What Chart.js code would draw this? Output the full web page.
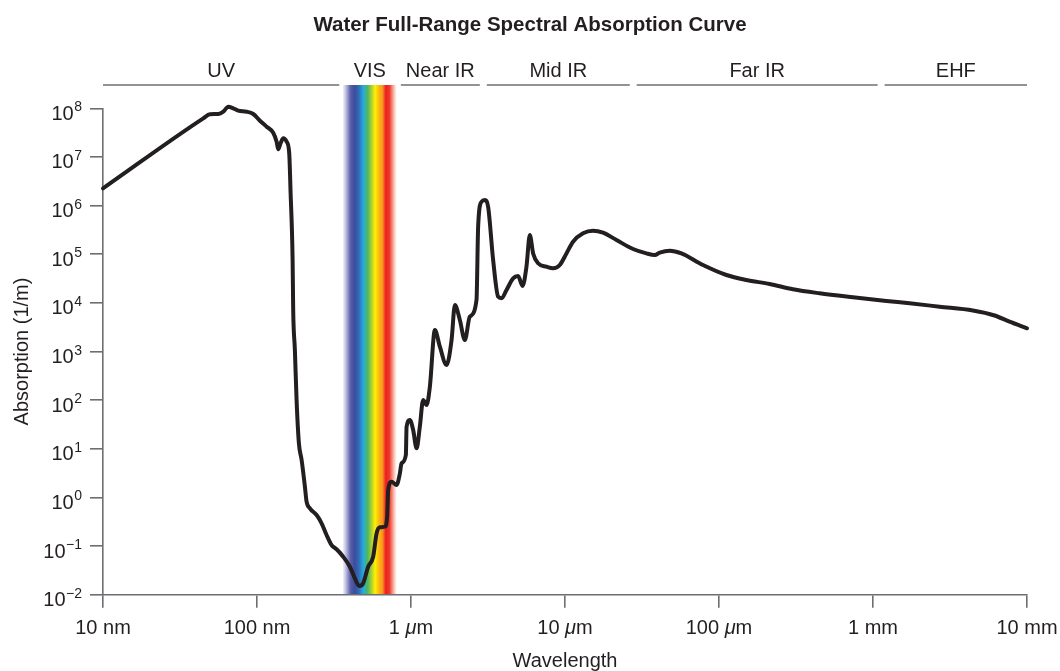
<!DOCTYPE html>
<html>
<head>
<meta charset="utf-8">
<script src="https://cdn.jsdelivr.net/npm/chart.js@4.4.0/dist/chart.umd.min.js"></script>
<style>
html,body{margin:0;padding:0;background:#fff}
#wrap{width:1060px;height:671px;position:relative}
</style>
</head>
<body>
<div id="wrap"><canvas id="c"></canvas></div>
<script>
// ---- data (wavelength in nm, absorption in 1/m) ----
const wavelengthNm = [
  10, 44.8, 49.5, 56.0, 60.4, 65.1, 70.1, 75.5, 85.6, 94.5,
  104.5, 115.5, 127.4, 134.1, 137.3, 142.3, 148.0, 155.7, 161.9, 165.3,
  170.3, 171.8, 176.2, 180.7, 187.1, 194.9, 204.7, 209.9, 220.5, 243.8,
  262.7, 283.0, 305, 328.7, 362.7, 401, 432, 461, 489, 527,
  568, 598, 628, 677, 700, 711, 748, 806, 847, 868,
  926, 936, 983, 1033, 1087, 1141, 1199, 1262, 1326, 1429,
  1540, 1701, 1834, 1927, 2076, 2237, 2410, 2663, 2729, 2871,
  3016, 3168, 3415, 3679, 3871, 4171, 4602, 4960, 5300, 5620,
  5910, 6210, 6690, 7580, 8370, 9250, 10220, 11280, 13100, 15210,
  17670, 21590, 27660, 33800, 38300, 41200, 47900, 57000, 78700, 111700,
  150600, 213300, 302200, 450000, 741000, 1221000, 1729000, 2707000, 4453000, 6160000,
  7700000, 10000000
];
const absorption = [
  2.26e6, 6.22e7, 7.54e7, 7.64e7, 8.51e7, 1.08e8, 1.0e8, 8.93e7, 8.51e7, 7.64e7,
  5.56e7, 4.19e7, 3.15e7, 2.06e7, 1.44e7, 1.91e7, 2.42e7, 2.06e7, 1.19e7, 1.79e6,
  7.6e4, 7130, 1070, 101, 13.0, 5.88, 1.66, 0.817, 0.598, 0.435,
  0.294, 0.169, 0.105, 0.0858, 0.0604, 0.0376, 0.0217, 0.0151, 0.0172, 0.0376,
  0.0604, 0.183, 0.243, 0.250, 0.402, 1.42, 2.10, 1.80, 3.13, 5.03,
  7.45, 28.4, 39.1, 24.3, 10.2, 28.4, 101, 79.4, 189, 2767,
  1255, 528, 1723, 9036, 4442, 1723, 5195, 11454, 3.68e5, 1.20e6,
  1.30e6, 9.48e5, 7.6e4, 13387, 12410, 18380, 31970, 35660, 22220, 55400,
  2.48e5, 1.04e5, 65060, 55400, 51340, 60020, 1.04e5, 1.81e5, 2.69e5, 3.05e5,
  2.77e5, 1.96e5, 1.28e5, 1.04e5, 96400, 1.075e5, 1.18e5, 1.04e5, 60020, 37400,
  29510, 24430, 19000, 15720, 13010, 10920, 9795, 8340, 6965, 5497,
  4099, 3000
];

// ---- axis ticks ----
const xTickValuesNm = [10, 100, 1000, 10000, 100000, 1000000, 10000000];
const xTickLabels = ['10 nm', '100 nm', '1 μm', '10 μm', '100 μm', '1 mm', '10 mm'];
const yTickExponents = [-2, -1, 0, 1, 2, 3, 4, 5, 6, 7, 8];
const yTickBase = '10';

// ---- spectral regions (nm) ----
const regionNames = ['UV', 'VIS', 'Near IR', 'Mid IR', 'Far IR', 'EHF'];
const regionFromNm = [10, 362, 859, 3107, 29220, 1190000];
const regionToNm = [342, 805, 2798, 26330, 1071700, 10000000];

const chartTitle = 'Water Full-Range Spectral Absorption Curve';
const xTitle = 'Wavelength';
const yTitle = 'Absorption (1/m)';

// ---- styling ----
const FONT = "'Liberation Sans', Arial, Helvetica, sans-serif";
const TEXT = '#231f20';
const AXIS = '#6d6e71';
Chart.defaults.font.family = FONT;
Chart.defaults.color = TEXT;

const spectrumStops = [
  [0.00, 'rgba(225,225,242,0.6)'],
  [0.06, '#b4b6dc'],
  [0.14, '#5b5fa8'],
  [0.22, '#3b4c9e'],
  [0.30, '#2f6fb8'],
  [0.38, '#27aae1'],
  [0.46, '#4fb85a'],
  [0.53, '#a6ce39'],
  [0.60, '#fff200'],
  [0.67, '#fdb913'],
  [0.74, '#f7941d'],
  [0.80, '#ed1c24'],
  [0.87, '#ef3b2c'],
  [0.93, '#f79b8a'],
  [1.00, 'rgba(253,232,226,0.6)']
];

function supText(exp) {
  return exp < 0 ? '\u2212' + Math.abs(exp) : String(exp);
}

function drawMixed(ctx, text, cx, baseline) {
  const normal = '20px ' + FONT, italic = 'italic 20px ' + FONT;
  const parts = text.split('μ');
  const segs = [];
  parts.forEach((p, i) => {
    if (i > 0) segs.push(['μ', italic]);
    if (p) segs.push([p, normal]);
  });
  let w = 0;
  segs.forEach(s => { ctx.font = s[1]; s.push(ctx.measureText(s[0]).width); w += s[2]; });
  let xx = cx - w / 2;
  ctx.textAlign = 'left';
  ctx.textBaseline = 'alphabetic';
  segs.forEach(s => { ctx.font = s[1]; ctx.fillText(s[0], xx, baseline); xx += s[2]; });
}

const overlay = {
  id: 'overlay',
  beforeDraw(chart) {
    const {ctx, chartArea, scales: {x}} = chart;
    const vi = regionNames.indexOf('VIS');
    const x0 = x.getPixelForValue(regionFromNm[vi]);
    const x1 = x.getPixelForValue(regionToNm[vi]);
    const top = chartArea.top - 23.3;
    const g = ctx.createLinearGradient(x0, 0, x1, 0);
    spectrumStops.forEach(s => g.addColorStop(s[0], s[1]));
    ctx.save();
    ctx.fillStyle = g;
    ctx.fillRect(x0, top, x1 - x0, chartArea.bottom - top);
    ctx.restore();
  },
  afterDraw(chart) {
    const {ctx, chartArea, scales: {x, y}} = chart;
    ctx.save();
    ctx.fillStyle = TEXT;
    // region lines and labels
    const lineY = chartArea.top - 23.3;
    regionNames.forEach((name, i) => {
      const a = x.getPixelForValue(regionFromNm[i]);
      const b = x.getPixelForValue(regionToNm[i]);
      if (name !== 'VIS') {
        ctx.strokeStyle = AXIS;
        ctx.lineWidth = 1.6;
        ctx.beginPath();
        ctx.moveTo(a, lineY);
        ctx.lineTo(b, lineY);
        ctx.stroke();
      }
      ctx.font = '20px ' + FONT;
      ctx.textAlign = 'center';
      ctx.textBaseline = 'alphabetic';
      ctx.fillText(name, (a + b) / 2, lineY - 8);
    });
    // y tick labels: 10 with superscript exponent
    const right = chartArea.left - 21;
    yTickExponents.forEach(e => {
      const py = y.getPixelForValue(Math.pow(10, e));
      const ex = supText(e);
      ctx.font = '14px ' + FONT;
      const ew = ctx.measureText(ex).width;
      ctx.textBaseline = 'alphabetic';
      ctx.textAlign = 'left';
      ctx.fillText(ex, right - ew, py + 3);
      ctx.font = '20px ' + FONT;
      ctx.textAlign = 'right';
      ctx.fillText(yTickBase, right - ew - 0.5, py + 11.5);
    });
    // x tick labels
    xTickValuesNm.forEach((v, i) => {
      drawMixed(ctx, xTickLabels[i], x.getPixelForValue(v), chartArea.bottom + 39.6);
    });
    ctx.restore();
  }
};

new Chart(document.getElementById('c'), {
  type: 'line',
  data: {
    datasets: [{
      data: wavelengthNm.map((w, i) => ({x: w, y: absorption[i]})),
      borderColor: TEXT,
      borderWidth: 4,
      pointRadius: 0,
      fill: false,
      cubicInterpolationMode: 'monotone',
      borderJoinStyle: 'round',
      borderCapStyle: 'round',
      clip: false
    }]
  },
  options: {
    responsive: true,
    maintainAspectRatio: false,
    animation: false,
    events: [],
    layout: {padding: {left: 0, right: 0, top: 0, bottom: 0}},
    plugins: {
      legend: {display: false},
      tooltip: {enabled: false},
      title: {
        display: true,
        text: chartTitle,
        color: TEXT,
        font: {family: FONT, size: 20.5, weight: 'bold', lineHeight: 1.2},
        padding: {top: 13, bottom: 70.7}
      }
    },
    scales: {
      x: {
        type: 'logarithmic',
        min: 10,
        max: 10000000,
        afterBuildTicks: s => { s.ticks = xTickValuesNm.map(v => ({value: v})); },
        afterFit: s => { s.height = 76.3; },
        ticks: {display: false},
        grid: {display: true, drawOnChartArea: false, drawTicks: true, tickLength: 13, color: AXIS, lineWidth: 1.6},
        border: {display: true, color: AXIS, width: 1.6},
        title: {display: true, text: xTitle, color: TEXT, font: {family: FONT, size: 20, lineHeight: 1.0}, padding: {top: 0, bottom: 0}}
      },
      y: {
        type: 'logarithmic',
        position: 'left',
        min: 0.01,
        max: 1e8,
        afterBuildTicks: s => { s.ticks = yTickExponents.map(e => ({value: Math.pow(10, e)})); },
        afterFit: s => { s.width = 103; },
        ticks: {display: false},
        grid: {display: true, drawOnChartArea: false, drawTicks: true, tickLength: 13, color: AXIS, lineWidth: 1.6},
        border: {display: true, color: AXIS, width: 1.6},
        title: {display: true, text: yTitle, color: TEXT, font: {family: FONT, size: 20, lineHeight: 1.0}, padding: {top: 12, bottom: 0}}
      },
      yRightMargin: {
        type: 'linear',
        position: 'right',
        afterFit: s => { s.width = 33; },
        ticks: {display: false},
        grid: {display: false, drawTicks: false},
        border: {display: false},
        title: {display: false}
      }
    }
  },
  plugins: [overlay]
});
</script>
</body>
</html>
